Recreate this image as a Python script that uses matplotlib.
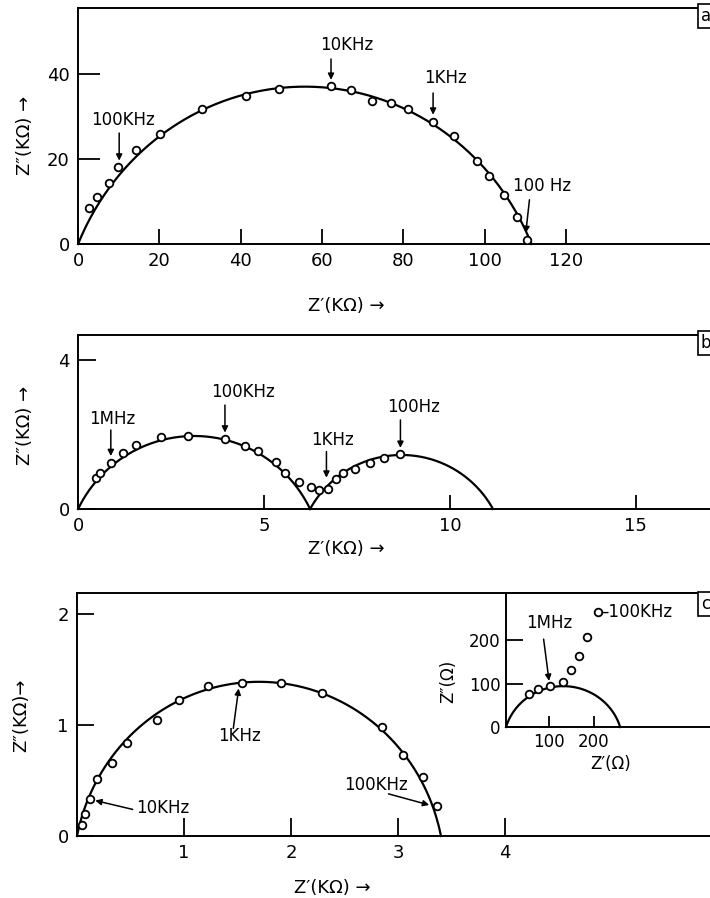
import numpy as np
import matplotlib
matplotlib.use('Agg')
import matplotlib.pyplot as plt

plt.rcParams['font.family'] = ['DejaVu Sans']

# ---- data ----
# (a) single arc, Z in kOhm
a_x = [2.7, 4.7, 7.7, 9.9, 14.2, 20.1, 30.4, 41.2, 49.3, 62.2, 67.0, 72.2, 76.9,
       81.1, 87.2, 92.4, 98.0, 101.0, 104.7, 107.9, 110.3]
a_y = [8.5, 11.0, 14.4, 18.0, 22.0, 25.9, 31.7, 34.8, 36.5, 37.2, 36.3, 33.6, 33.2,
       31.8, 28.7, 25.4, 19.6, 15.9, 11.5, 6.3, 0.94]
a_arcs = [(0.0, 111.5, 37.0)]          # (start, end, peak height)

# (b) two arcs, kOhm
b_x = [0.47, 0.59, 0.88, 1.20, 1.55, 2.23, 2.95, 3.95, 4.49, 4.85, 5.32, 5.56,
       5.94, 6.26, 6.49, 6.71, 6.94, 7.13, 7.46, 7.85, 8.23, 8.66]
b_y = [0.82, 0.97, 1.23, 1.51, 1.72, 1.94, 1.96, 1.87, 1.70, 1.56, 1.27, 0.97,
       0.73, 0.60, 0.51, 0.54, 0.80, 0.96, 1.07, 1.24, 1.36, 1.47]
b_arcs = [(0.0, 6.24, 1.96), (6.24, 11.16, 1.45)]

# (c) main, kOhm
c_x = [0.044, 0.075, 0.12, 0.19, 0.33, 0.47, 0.75, 0.95, 1.22, 1.54, 1.91, 2.29,
       2.85, 3.05, 3.23, 3.36]
c_y = [0.10, 0.20, 0.33, 0.51, 0.66, 0.84, 1.05, 1.23, 1.35, 1.38, 1.38, 1.29,
       0.98, 0.73, 0.53, 0.27]
c_arcs = [(0.0, 3.40, 1.39)]

# (c) inset, Ohm
i_x = [56, 77, 104, 132, 149, 168, 185, 208]
i_y = [75, 87, 94, 103, 131, 164, 208, 264]
i_arcs = [(6.0, 258.0, 94.0)]


def arc(x0, x1, peak):
    # circular arc through (x0,0), (x1,0) with given height at the middle
    half = (x1 - x0) / 2.0
    r = (half ** 2 + peak ** 2) / (2 * peak)
    xc, yc = x0 + half, peak - r
    x = np.linspace(x0, x1, 300)
    y = yc + np.sqrt(np.clip(r ** 2 - (x - xc) ** 2, 0, None))
    return x, y


def style(ax, xlen, ylen, lsize=13):
    for s in ['left', 'top', 'bottom']:
        ax.spines[s].set_linewidth(1.4)
    ax.spines['right'].set_visible(False)
    ax.tick_params(direction='in', width=1.3, labelsize=lsize, pad=6)
    ax.tick_params(axis='x', length=xlen)
    ax.tick_params(axis='y', length=ylen)


def draw(ax, xs, ys, arcs):
    for x0, x1, pk in arcs:
        cx, cy = arc(x0, x1, pk)
        ax.plot(cx, cy, color='black', lw=1.6, clip_on=False, zorder=2)
    ax.plot(xs, ys, 'o', mfc='white', mec='black', mew=1.3, ms=5.5, zorder=3)


def tag(ax, text, tx, ty, x_from, y_from, x_to, y_to, fs=12):
    ax.text(tx, ty, text, ha='center', va='center', fontsize=fs)
    ax.annotate('', xy=(x_to, y_to), xytext=(x_from, y_from),
                arrowprops=dict(arrowstyle='-|>', color='black', lw=1.1,
                                mutation_scale=9, shrinkA=0, shrinkB=0))


def box_tag(ypix, letter):
    fig.text(701 / 710, 1 - ypix / 898, letter, ha='left', va='center', fontsize=12,
             bbox=dict(boxstyle='square,pad=0.2', fc='white', ec='black', lw=1.2))


fig = plt.figure(figsize=(7.1, 8.98), dpi=100)

# ---- panel (a) ----
ax_a = fig.add_axes([0.110, 0.7283, 0.898, 0.2628])
draw(ax_a, a_x, a_y, a_arcs)
ax_a.set_xlim(0, 156.8)
ax_a.set_ylim(0, 55.5)
ax_a.set_xticks([0, 20, 40, 60, 80, 100, 120])
ax_a.set_yticks([0, 20, 40])
style(ax_a, 11, 16)
tag(ax_a, '100KHz', 11.1, 29.2, 10.1, 26.1, 10.1, 19.6)
tag(ax_a, '10KHz', 66.0, 46.8, 62.2, 43.5, 62.2, 38.6)
tag(ax_a, '1KHz', 90.4, 39.0, 87.3, 35.5, 87.3, 30.4)
tag(ax_a, '100 Hz', 114.2, 13.6, 111.0, 10.4, 110.1, 2.6)
fig.text(25 / 710, 1 - 135 / 898, 'Z\u2033(K\u03a9) \u2192', rotation=90,
         ha='center', va='center', fontsize=13)
fig.text(346 / 710, 1 - 306 / 898, 'Z\u2032(K\u03a9) \u2192',
         ha='center', va='center', fontsize=13)
box_tag(16, 'a')

# ---- panel (b) ----
ax_b = fig.add_axes([0.110, 0.4332, 0.898, 0.1937])
draw(ax_b, b_x, b_y, b_arcs)
ax_b.set_xlim(0, 17.15)
ax_b.set_ylim(0, 4.67)
ax_b.set_xticks([0, 5, 10, 15])
ax_b.set_yticks([0, 4])
style(ax_b, 10, 13)
tag(ax_b, '1MHz', 0.91, 2.42, 0.88, 2.12, 0.88, 1.42)
tag(ax_b, '100KHz', 4.43, 3.15, 3.95, 2.79, 3.95, 2.05)
tag(ax_b, '1KHz', 6.83, 1.85, 6.68, 1.54, 6.68, 0.84)
tag(ax_b, '100Hz', 9.03, 2.74, 8.67, 2.39, 8.67, 1.64)
fig.text(25 / 710, 1 - 425 / 898, 'Z\u2033(K\u03a9) \u2192', rotation=90,
         ha='center', va='center', fontsize=13)
fig.text(346 / 710, 1 - 549 / 898, 'Z\u2032(K\u03a9) \u2192',
         ha='center', va='center', fontsize=13)
box_tag(343, 'b')

# ---- panel (c) ----
ax_c = fig.add_axes([0.1085, 0.0690, 0.9, 0.2706])
draw(ax_c, c_x, c_y, c_arcs)
ax_c.set_xlim(0, 5.97)
ax_c.set_ylim(0, 2.19)
ax_c.set_xticks([1, 2, 3, 4])
ax_c.set_yticks([0, 1, 2])
style(ax_c, 13, 12)
tag(ax_c, '1KHz', 1.52, 0.90, 1.46, 0.97, 1.51, 1.33)
tag(ax_c, '10KHz', 0.80, 0.25, 0.52, 0.24, 0.17, 0.32)
tag(ax_c, '100KHz', 2.79, 0.46, 2.91, 0.38, 3.29, 0.28)
fig.text(21 / 710, 1 - 715 / 898, 'Z\u2033(K\u03a9)\u2192', rotation=90,
         ha='center', va='center', fontsize=13)
fig.text(332 / 710, 1 - 888 / 898, 'Z\u2032(K\u03a9) \u2192',
         ha='center', va='center', fontsize=13)
box_tag(604, 'c')

# ---- inset of (c) ----
ax_i = fig.add_axes([0.7127, 0.1904, 0.296, 0.1492])
draw(ax_i, i_x, i_y, i_arcs)
ax_i.set_xlim(6, 470)
ax_i.set_ylim(0, 308)
ax_i.set_xticks([100, 200])
ax_i.set_yticks([0, 100, 200])
style(ax_i, 8, 12, lsize=12)
ax_i.tick_params(pad=4)
tag(ax_i, '1MHz', 102, 238, 89, 202, 101, 106, fs=12)
ax_i.text(214, 264, '\u2013100KHz', ha='left', va='center', fontsize=12)
ax_i.set_xlabel('Z\u2032(\u03a9)', fontsize=12, labelpad=3)
fig.text(448 / 710, 1 - 681 / 898, 'Z\u2033(\u03a9)', rotation=90,
         ha='center', va='center', fontsize=12)

fig.savefig('out.png', dpi=100)
